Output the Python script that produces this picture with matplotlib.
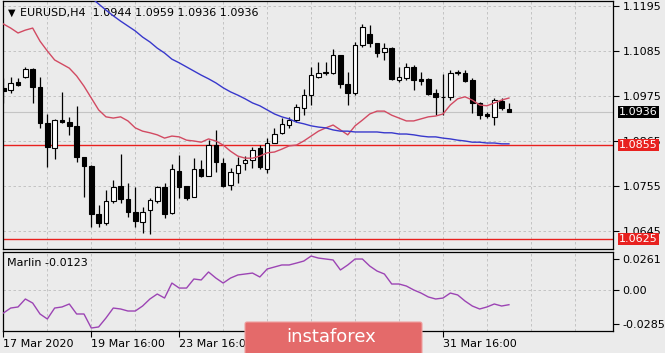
"""Recreate the EURUSD H4 chart with the Marlin oscillator pane."""
import matplotlib
matplotlib.use('Agg')
import numpy as np
from matplotlib import pyplot as plt
from matplotlib import transforms
from matplotlib.patches import FancyBboxPatch

# H4 candles, oldest first (bar 0 is cut by the left border)
OPEN = [1.0995, 1.0990, 1.1009, 1.1021, 1.1041, 1.0997, 1.0909, 1.0848, 1.0916, 1.0911,
        1.0902, 1.0826, 1.0804, 1.0686, 1.0664, 1.0718, 1.0755, 1.0723, 1.0691, 1.0667,
        1.0696, 1.0718, 1.0752, 1.0689, 1.0792, 1.0755, 1.0728, 1.0796, 1.0779, 1.0855,
        1.0811, 1.0757, 1.0787, 1.0811, 1.0818, 1.0848, 1.0796, 1.0860, 1.0885, 1.0904,
        1.0916, 1.0946, 1.0977, 1.1021, 1.1031, 1.1031, 1.1075, 1.1004, 1.0982, 1.1100,
        1.1127, 1.1105, 1.1083, 1.1092, 1.1014, 1.1019, 1.1046, 1.1017, 1.1017, 1.0982,
        1.0973, 1.0973, 1.1031, 1.1031, 1.1014, 1.0958, 1.0931, 1.0924, 1.0963, 1.0944]
HIGH = [1.1019, 1.1021, 1.1019, 1.1046, 1.1043, 1.1021, 1.0931, 1.0919, 1.0985, 1.0924,
        1.0951, 1.0826, 1.0806, 1.0708, 1.0745, 1.0770, 1.0833, 1.0762, 1.0752, 1.0704,
        1.0726, 1.0755, 1.0762, 1.0809, 1.0831, 1.0755, 1.0823, 1.0818, 1.0867, 1.0892,
        1.0823, 1.0799, 1.0826, 1.0828, 1.0850, 1.0855, 1.0872, 1.0897, 1.0921, 1.0924,
        1.0955, 1.0992, 1.1046, 1.1058, 1.1058, 1.1090, 1.1075, 1.1034, 1.1107, 1.1151,
        1.1149, 1.1105, 1.1105, 1.1095, 1.1046, 1.1056, 1.1051, 1.1034, 1.1019, 1.0992,
        1.1029, 1.1039, 1.1039, 1.1039, 1.1019, 1.0960, 1.0936, 1.0970, 1.0970, 1.0959]
LOW = [1.0958, 1.0982, 1.0999, 1.1019, 1.0958, 1.0897, 1.0801, 1.0821, 1.0909, 1.0880,
       1.0814, 1.0728, 1.0655, 1.0655, 1.0660, 1.0713, 1.0713, 1.0679, 1.0655, 1.0640,
       1.0638, 1.0713, 1.0677, 1.0686, 1.0726, 1.0721, 1.0728, 1.0777, 1.0779, 1.0789,
       1.0752, 1.0745, 1.0762, 1.0794, 1.0799, 1.0796, 1.0787, 1.0860, 1.0882, 1.0897,
       1.0911, 1.0928, 1.0953, 1.1019, 1.1026, 1.1029, 1.0995, 1.0953, 1.0977, 1.1095,
       1.1095, 1.1070, 1.1063, 1.1014, 1.1009, 1.1014, 1.0990, 1.1002, 1.0977, 1.0928,
       1.0928, 1.0965, 1.1026, 1.1009, 1.0933, 1.0919, 1.0921, 1.0904, 1.0941, 1.0936]
CLOSE = [1.0987, 1.1007, 1.1002, 1.1041, 1.0997, 1.0909, 1.0850, 1.0916, 1.0911, 1.0902,
         1.0826, 1.0804, 1.0686, 1.0664, 1.0718, 1.0752, 1.0723, 1.0691, 1.0669, 1.0691,
         1.0721, 1.0752, 1.0686, 1.0796, 1.0752, 1.0726, 1.0796, 1.0779, 1.0855, 1.0814,
         1.0755, 1.0789, 1.0806, 1.0818, 1.0843, 1.0801, 1.0860, 1.0882, 1.0907, 1.0916,
         1.0948, 1.0977, 1.1026, 1.1031, 1.1034, 1.1075, 1.1004, 1.0982, 1.1100, 1.1144,
         1.1105, 1.1080, 1.1092, 1.1017, 1.1021, 1.1046, 1.1014, 1.1012, 1.0980, 1.0973,
         1.0972, 1.1031, 1.1034, 1.1012, 1.0958, 1.0928, 1.0926, 1.0965, 1.0946, 1.0936]

# moving averages (red = fast, blue = slow, slow starts above the visible range)
MA_FAST = [1.1151, 1.1141, 1.1129, 1.1136, 1.1141, 1.1109, 1.1085, 1.1063, 1.1053, 1.1043,
           1.1024, 1.0999, 1.0970, 1.0941, 1.0924, 1.0921, 1.0924, 1.0914, 1.0897, 1.0889,
           1.0885, 1.0880, 1.0872, 1.0877, 1.0875, 1.0867, 1.0865, 1.0862, 1.0870, 1.0865,
           1.0855, 1.0840, 1.0828, 1.0823, 1.0823, 1.0828, 1.0836, 1.0838, 1.0845, 1.0853,
           1.0855, 1.0865, 1.0877, 1.0889, 1.0897, 1.0904, 1.0892, 1.0880, 1.0902, 1.0916,
           1.0931, 1.0938, 1.0938, 1.0928, 1.0921, 1.0914, 1.0914, 1.0919, 1.0924, 1.0926,
           1.0931, 1.0953, 1.0968, 1.0973, 1.0965, 1.0953, 1.0951, 1.0958, 1.0965, 1.0970]
MA_SLOW = [np.nan] * 11 + [
           1.1229, 1.1215, 1.1200, 1.1185, 1.1171, 1.1158, 1.1146, 1.1134, 1.1119,
           1.1107, 1.1092, 1.1080, 1.1065, 1.1056, 1.1046, 1.1036, 1.1026, 1.1017, 1.1007,
           1.0995, 1.0985, 1.0977, 1.0968, 1.0958, 1.0951, 1.0941, 1.0931, 1.0924, 1.0919,
           1.0911, 1.0907, 1.0902, 1.0899, 1.0897, 1.0892, 1.0889, 1.0889, 1.0887, 1.0887,
           1.0887, 1.0887, 1.0885, 1.0885, 1.0882, 1.0882, 1.0880, 1.0877, 1.0875, 1.0875,
           1.0872, 1.0870, 1.0867, 1.0865, 1.0862, 1.0862, 1.0860, 1.0860, 1.0858, 1.0858]

MARLIN = [-0.0193, -0.0151, -0.0142, -0.0075, -0.0109, -0.0201, -0.0243, -0.0151, -0.0142, -0.0117,
          -0.0201, -0.0201, -0.0319, -0.0310, -0.0235, -0.0151, -0.0159, -0.0176, -0.0176, -0.0134,
          -0.0075, -0.0033, -0.0067, 0.0059, 0.0017, 0.0017, 0.0093, 0.0085, 0.0152, 0.0101,
          0.0059, 0.0101, 0.0127, 0.0135, 0.0143, 0.0110, 0.0177, 0.0194, 0.0211, 0.0211,
          0.0227, 0.0244, 0.0286, 0.0269, 0.0261, 0.0253, 0.0169, 0.0211, 0.0261, 0.0261,
          0.0202, 0.0160, 0.0135, 0.0051, 0.0051, 0.0034, 0.0001, -0.0025, -0.0058, -0.0075,
          -0.0067, -0.0025, -0.0041, -0.0092, -0.0134, -0.0159, -0.0142, -0.0117, -0.0134, -0.0123]

PRICE_TICKS = [1.1195, 1.1085, 1.0975, 1.0865, 1.0755, 1.0645]
LEVELS = [1.0855, 1.0625]
LAST_PRICE = 1.0936
MARLIN_TICKS = [0.0261, 0.0, -0.0285]
MARLIN_TICK_LABELS = ['0.0261', '0.00', '-0.0285']
DATE_POS = [0, 12, 24, 60]
DATE_LABELS = ['17 Mar 2020', '19 Mar 16:00', '23 Mar 16:00', '31 Mar 16:00']
HEADER = 'EURUSD,H4  1.0944 1.0959 1.0936 1.0936'

BG = '#ebebeb'
GRID = '#bdbdbd'
RED_MA = '#d24a62'
BLUE_MA = '#3838cc'
MARLIN_COLOR = '#9c44b4'
LEVEL_RED = '#e8211f'
FONT = 8

W, H = 665, 353
fig = plt.figure(figsize=(W / 100, H / 100), dpi=100, facecolor=BG)
ax = fig.add_axes([3 / W, 104 / H, 610 / W, 248 / H], facecolor=BG)
ax2 = fig.add_axes([3 / W, 22 / H, 610 / W, 79 / H], facecolor=BG)

n = len(CLOSE)
x = np.arange(n)
xmax = 83.2

# grid
for a in (ax, ax2):
    for gx in range(6, 84, 6):
        a.axvline(gx, color=GRID, lw=0.6, ls=(0, (3, 3)), zorder=0)
    for sp in a.spines.values():
        sp.set_color('black')
        sp.set_linewidth(0.9)
for py in PRICE_TICKS:
    ax.axhline(py, color=GRID, lw=0.6, ls=(0, (3, 3)), zorder=0)
ax2.axhline(0.0, color=GRID, lw=0.6, ls=(0, (3, 3)), zorder=0)

# price line and levels
ax.axhline(LAST_PRICE, color='#c4c4c4', lw=0.8, zorder=1)
for lv in LEVELS:
    ax.axhline(lv, color=LEVEL_RED, lw=1.0, zorder=2)

# candles
o = np.array(OPEN)
c = np.array(CLOSE)
up = c >= o
ax.vlines(x, LOW, HIGH, color='black', lw=0.9, zorder=3)
ax.bar(x, np.abs(c - o), bottom=np.minimum(o, c), width=0.62,
       color=np.where(up, 'white', 'black'), edgecolor='black', linewidth=0.8, zorder=4)

ax.plot(x, MA_FAST, color=RED_MA, lw=1.0, zorder=5)
ax.plot(x, MA_SLOW, color=BLUE_MA, lw=1.0, zorder=5)

ax.set_xlim(-0.05, xmax)
ax.set_ylim(1.06009, 1.12072)
ax.set_xticks([])
ax.yaxis.tick_right()
ax.set_yticks(PRICE_TICKS)
ax.set_yticklabels(['%.4f' % p for p in PRICE_TICKS])
ax.tick_params(axis='y', direction='out', length=4, width=0.8, pad=3, labelsize=FONT)

# price tags on the right scale
blend = transforms.blended_transform_factory(ax.transAxes, ax.transData)
tags = [(LAST_PRICE, 'black'), (LEVELS[0], LEVEL_RED), (LEVELS[1], LEVEL_RED)]
for val, col in tags:
    ax.text(1.0 + 6 / 610, val, '%.4f' % val, transform=blend, ha='left', va='center',
            color='white', fontsize=FONT, zorder=10, clip_on=False,
            bbox=dict(boxstyle='square,pad=0.12', fc=col, ec='none'))

ax.text(5 / 610, 1 - 12 / 248, '\u25bc', transform=ax.transAxes, fontsize=7, va='center', ha='left')
ax.text(17 / 610, 1 - 12 / 248, HEADER, transform=ax.transAxes, fontsize=FONT, va='center', ha='left')

# Marlin pane
ax2.plot(x, MARLIN, color=MARLIN_COLOR, lw=1.0, zorder=3)
ax2.set_xlim(-0.05, xmax)
ax2.set_ylim(-0.0344, 0.0320)
ax2.yaxis.tick_right()
ax2.set_yticks(MARLIN_TICKS)
ax2.set_yticklabels(MARLIN_TICK_LABELS)
ax2.tick_params(axis='y', direction='out', length=4, width=0.8, pad=3, labelsize=FONT)
ax2.set_xticks(DATE_POS)
ax2.set_xticklabels(DATE_LABELS)
ax2.tick_params(axis='x', direction='out', length=4, width=0.8, pad=2, labelsize=FONT)
plt.setp(ax2.get_xticklabels(), ha='left')
ax2.text(4 / 610, 1 - 11 / 79, 'Marlin -0.0123', transform=ax2.transAxes,
         fontsize=FONT, va='center', ha='left')

# watermark banner
banner = FancyBboxPatch((245, -4), 177, 35, boxstyle='round,pad=0,rounding_size=2',
                        transform=None, fc='#e46a6a', ec='#f0a0a0', lw=0.8, zorder=20)
fig.patches.append(banner)
fig.text(331 / W, 16 / H, 'instaforex', color='white', fontsize=13, ha='center', va='center',
         zorder=21)

fig.savefig('out.png', dpi=100, facecolor=BG)
